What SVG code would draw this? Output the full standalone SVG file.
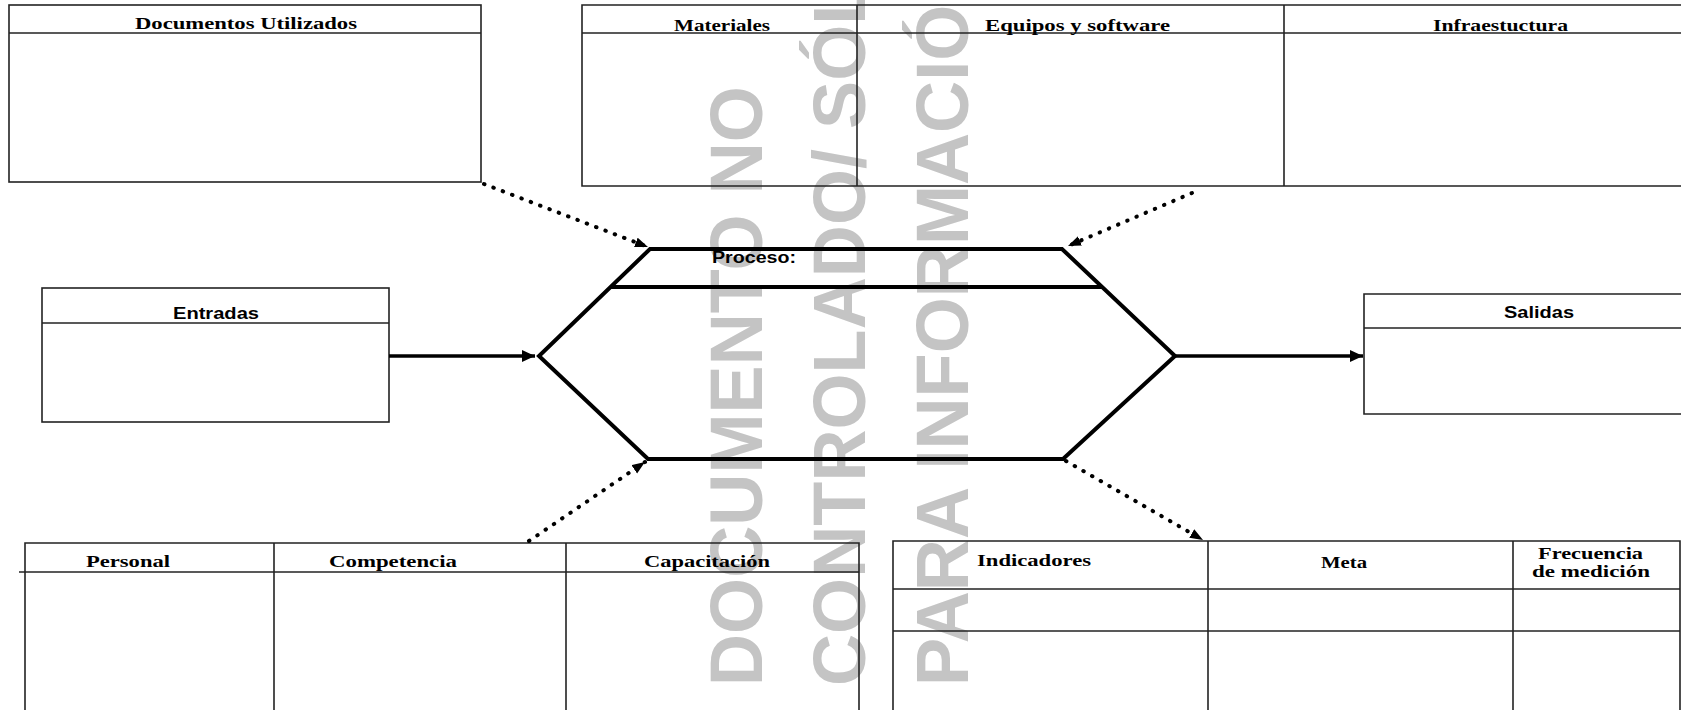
<svg xmlns="http://www.w3.org/2000/svg" width="1681" height="710" viewBox="0 0 1681 710">
  <style>
    .box { fill: none; stroke: #222; stroke-width: 1.6; }
    .hex { fill: none; stroke: #000; stroke-width: 4; stroke-linejoin: miter; }
    .solid { stroke: #000; stroke-width: 3.5; fill: none; }
    .dot { stroke: #000; stroke-width: 4; fill: none; stroke-linecap: round; stroke-dasharray: 0.5 9.5; }
    .serif { font-family: "Liberation Serif", "Times New Roman", serif; font-weight: bold; font-size: 16px; fill: #000; }
    .sans { font-family: "Liberation Sans", Arial, sans-serif; font-weight: bold; font-size: 16px; fill: #000; }
    .wm { font-family: "Liberation Sans", Arial, sans-serif; font-weight: bold; font-size: 74px; fill: #c4c4c4; }
  </style>
  <defs>
    <marker id="ah" markerUnits="userSpaceOnUse" markerWidth="14" markerHeight="12" refX="13" refY="6" orient="auto">
      <path d="M0,0 L13,6 L0,12 z" fill="#000"/>
    </marker>
    <marker id="ahd" markerUnits="userSpaceOnUse" markerWidth="14" markerHeight="12" refX="13" refY="5" orient="auto">
      <path d="M0,0 L13,5 L0,10 z" fill="#000"/>
    </marker>
  </defs>
  <rect x="0" y="0" width="1681" height="710" fill="#fff"/>

  <g id="watermark">
    <text class="wm" transform="translate(762,686) rotate(-90) scale(0.975,1)">DOCUMENTO NO</text>
    <text class="wm" transform="translate(865,686) rotate(-90) scale(0.975,1)">CONTROLADO/ SÓLO</text>
    <text class="wm" transform="translate(968,686) rotate(-90) scale(0.975,1)">PARA INFORMACIÓN</text>
  </g>

  <g id="documentos">
    <rect class="box" x="9" y="5" width="472" height="177"/>
    <line class="box" x1="9" y1="33" x2="481" y2="33"/>
    <text class="serif" x="135" y="29" textLength="222" lengthAdjust="spacingAndGlyphs">Documentos Utilizados</text>
  </g>

  <g id="recursos">
    <path class="box" d="M1700,5 H582 V186 H1700"/>
    <line class="box" x1="582" y1="33" x2="1700" y2="33"/>
    <line class="box" x1="857" y1="5" x2="857" y2="186"/>
    <line class="box" x1="1284" y1="5" x2="1284" y2="186"/>
    <text class="serif" x="674" y="31" textLength="96" lengthAdjust="spacingAndGlyphs">Materiales</text>
    <text class="serif" x="985" y="31" textLength="185" lengthAdjust="spacingAndGlyphs">Equipos y software</text>
    <text class="serif" x="1433" y="31" textLength="135" lengthAdjust="spacingAndGlyphs">Infraestuctura</text>
  </g>

  <g id="entradas">
    <rect class="box" x="42" y="288" width="347" height="134"/>
    <line class="box" x1="42" y1="323" x2="389" y2="323"/>
    <text class="sans" x="173" y="319" textLength="86" lengthAdjust="spacingAndGlyphs">Entradas</text>
  </g>

  <g id="proceso">
    <polygon class="hex" points="650,249 1062,249 1175,356 1063,459 648,459 539,356"/>
    <line class="hex" x1="611" y1="287" x2="1102" y2="287"/>
    <text class="sans" x="712" y="263" font-size="15" textLength="84" lengthAdjust="spacingAndGlyphs">Proceso:</text>
  </g>

  <g id="salidas">
    <path class="box" d="M1700,294 H1364 V414 H1700"/>
    <line class="box" x1="1364" y1="328" x2="1700" y2="328"/>
    <text class="sans" x="1504" y="318" textLength="70" lengthAdjust="spacingAndGlyphs">Salidas</text>
  </g>

  <g id="personal">
    <path class="box" d="M25,712 V543 H859 V712"/>
    <line class="box" x1="19" y1="572" x2="859" y2="572"/>
    <line class="box" x1="274" y1="543" x2="274" y2="712"/>
    <line class="box" x1="566" y1="543" x2="566" y2="712"/>
    <text class="serif" x="86" y="567" textLength="84" lengthAdjust="spacingAndGlyphs">Personal</text>
    <text class="serif" x="329" y="567" textLength="128" lengthAdjust="spacingAndGlyphs">Competencia</text>
    <text class="serif" x="644" y="567" textLength="126" lengthAdjust="spacingAndGlyphs">Capacitación</text>
  </g>

  <g id="indicadores">
    <path class="box" d="M893,712 V541 H1680 V712"/>
    <line class="box" x1="893" y1="589" x2="1680" y2="589"/>
    <line class="box" x1="893" y1="631" x2="1680" y2="631"/>
    <line class="box" x1="1208" y1="541" x2="1208" y2="712"/>
    <line class="box" x1="1513" y1="541" x2="1513" y2="712"/>
    <text class="serif" x="977" y="566" textLength="114" lengthAdjust="spacingAndGlyphs">Indicadores</text>
    <text class="serif" x="1321" y="568" textLength="46" lengthAdjust="spacingAndGlyphs">Meta</text>
    <text class="serif" x="1538" y="559" textLength="105" lengthAdjust="spacingAndGlyphs">Frecuencia</text>
    <text class="serif" x="1532" y="577" textLength="118" lengthAdjust="spacingAndGlyphs">de medición</text>
  </g>

  <g id="connectors">
    <line class="solid" x1="389" y1="356" x2="535" y2="356" marker-end="url(#ah)"/>
    <line class="solid" x1="1175" y1="356" x2="1363" y2="356" marker-end="url(#ah)"/>
    <line class="dot" x1="484" y1="184" x2="648" y2="247" marker-end="url(#ahd)"/>
    <line class="dot" x1="1192" y1="193" x2="1068" y2="246" marker-end="url(#ahd)"/>
    <line class="dot" x1="529" y1="541" x2="645" y2="462" marker-end="url(#ahd)"/>
    <line class="dot" x1="1066" y1="461" x2="1203" y2="540" marker-end="url(#ahd)"/>
  </g>
</svg>
